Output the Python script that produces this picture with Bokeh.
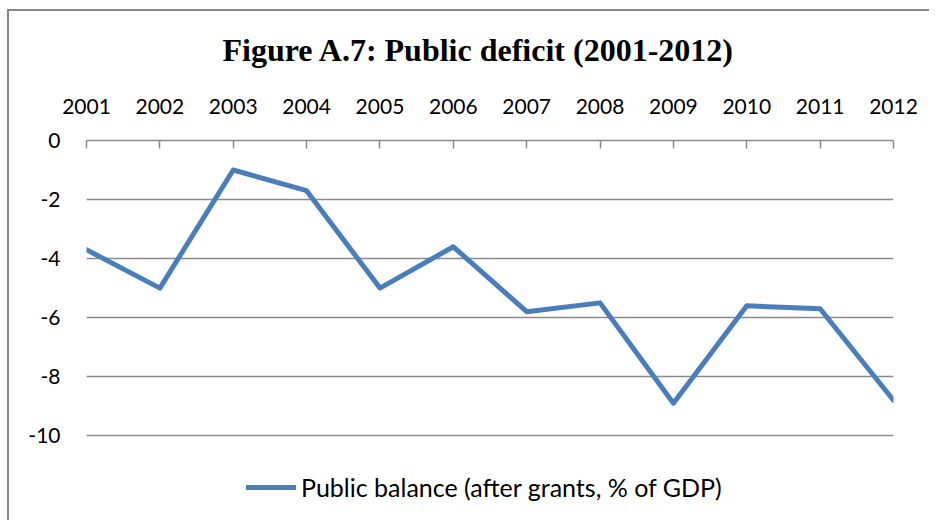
from bokeh.plotting import figure
from bokeh.models import Range1d, FixedTicker, Legend, LegendItem, InlineStyleSheet
from bokeh.embed import file_html
from bokeh.resources import INLINE

# ---- data ----
years = [2001, 2002, 2003, 2004, 2005, 2006, 2007, 2008, 2009, 2010, 2011, 2012]
public_balance = [-3.7, -5.0, -1.0, -1.7, -5.0, -3.6, -5.8, -5.5, -8.9, -5.6, -5.7, -8.8]
y_ticks = [0, -2, -4, -6, -8, -10]
y_tick_labels = ["0", "-2", "-4", "-6", "-8", "-10"]
title_text = "Figure A.7: Public deficit (2001-2012)"
series_name = "Public balance (after grants, % of GDP)"

LINE_COLOR = "#4A7EBB"
GRID_COLOR = "#8A8A8A"
LABEL_FONT = "Lato"
Y_BOTTOM = -12.5   # frame extends below the last gridline to host the legend

p = figure(
    width=929, height=520,
    output_backend="svg", toolbar_location=None,
    x_range=Range1d(years[0], years[-1]),
    y_range=Range1d(Y_BOTTOM, max(y_ticks)),
    x_axis_location="above",
    title=title_text,
    min_border_left=86, min_border_right=36,
    min_border_top=140, min_border_bottom=11,
)
# chart-area border (left and top edges visible in the reference)
p.stylesheets = [InlineStyleSheet(css=(
    ":host::after { content: ''; position: absolute; left: 7px; top: 9px; "
    "right: 0; bottom: 0; border-left: 2px solid #878787; "
    "border-top: 2px solid #878787; pointer-events: none; }"
))]
p.outline_line_color = None
p.background_fill_color = "white"
p.border_fill_color = "white"

# title
p.title.text_font = "Liberation Serif"
p.title.text_font_size = "32px"
p.title.text_font_style = "bold"
p.title.text_color = "black"
p.title.align = "left"
p.title.offset = 136
p.title.standoff = 56

# x axis (top)
xa = p.xaxis[0]
xa.ticker = FixedTicker(ticks=years)
xa.major_label_text_font = LABEL_FONT
xa.major_label_text_font_size = "21px"
xa.major_label_text_color = "black"
xa.axis_line_color = GRID_COLOR
xa.axis_line_width = 1.5
xa.major_tick_line_color = GRID_COLOR
xa.major_tick_line_width = 1.5
xa.major_tick_in = 8
xa.major_tick_out = 0
xa.minor_tick_line_color = None
xa.major_label_standoff = 27

# y axis
ya = p.yaxis[0]
ya.ticker = FixedTicker(ticks=y_ticks)
ya.major_label_overrides = dict(zip(y_ticks, y_tick_labels))
ya.major_label_text_font = LABEL_FONT
ya.major_label_text_font_size = "21px"
ya.major_label_text_color = "black"
ya.axis_line_color = None
ya.major_tick_line_color = None
ya.minor_tick_line_color = None
ya.major_tick_in = 0
ya.major_tick_out = 0
ya.major_label_standoff = 26

# grid
p.xgrid.grid_line_color = None
p.ygrid.ticker = FixedTicker(ticks=y_ticks)
p.ygrid.grid_line_color = GRID_COLOR
p.ygrid.grid_line_width = 1.5

# series
r = p.line(years, public_balance, line_color=LINE_COLOR, line_width=5,
           line_join="round", line_cap="round")

legend = Legend(
    items=[LegendItem(label=series_name, renderers=[r])],
    location=(160, 7),
    orientation="horizontal",
    glyph_width=50, label_standoff=5,
    padding=0, spacing=0, margin=0,
    border_line_color=None, background_fill_alpha=0,
    label_text_font=LABEL_FONT, label_text_font_size="25px",
    label_text_color="black",
)
p.add_layout(legend)

open("out.html", "w").write(file_html(p, INLINE))
